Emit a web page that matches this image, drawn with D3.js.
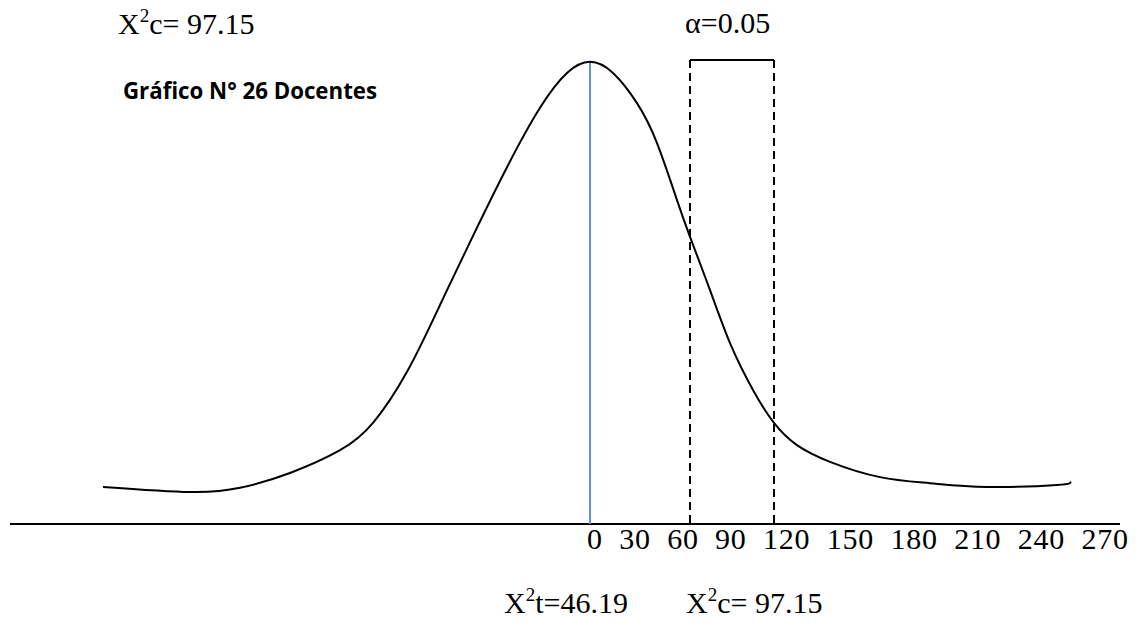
<!DOCTYPE html>
<html>
<head>
<meta charset="utf-8">
<script src="https://cdn.jsdelivr.net/npm/d3@7"></script>
<style>
  body { margin: 0; background: #fff; }
  svg { display: block; }
</style>
</head>
<body>
<div id="chart"></div>
<script>
// curve (x in axis units, y in % of peak height)
var curveX = [-243.5, -200, -175, -150, -125, -108.5, -91.5, -75, -58.5, -41.5, -25, -11.5, 0,
              11.5, 23.5, 33.5, 43.5, 50, 60, 70, 81.5, 92, 103.5, 120, 145, 170, 198.5, 233.5, 240];
var curveY = [8.0, 6.9, 7.8, 11.0, 15.9, 21.8, 32.8, 47.2, 62.1, 76.9, 89.7, 97.2, 99.6,
              97.2, 90.7, 82.1, 69.8, 61.9, 50.4, 39.0, 28.9, 21.8, 17.0, 13.4, 10.1, 8.8, 8.0, 8.4, 9.1];
var meanX = 0;
var critX = [50, 92];          // dashed bounds of the rejection region
var tickLabels = ["0", "30", "60", "90", "120", "150", "180", "210", "240", "270"];
var topLabel = ["X", "2", "c= 97.15"];
var alphaLabel = "α=0.05";
var title = "Gráfico N° 26 Docentes";
var bottomT = ["X", "2", "t=46.19"];
var bottomC = ["X", "2", "c= 97.15"];

var width = 1136, height = 628;
var serif = "'Liberation Serif', 'Times New Roman', serif";

var x = d3.scaleLinear().domain([-290, 265]).range([10, 1120]);
var y = d3.scaleLinear().domain([0, 100]).range([524, 60]);

var svg = d3.select("#chart").append("svg")
    .attr("width", width)
    .attr("height", height);

// baseline axis
svg.append("line")
    .attr("x1", x(-290)).attr("x2", x(265))
    .attr("y1", y(0)).attr("y2", y(0))
    .style("stroke", "#000")
    .style("stroke-width", 2);

// rejection region: two dashed uprights and a solid top
svg.selectAll(".crit")
    .data(critX)
    .enter().append("line")
    .attr("class", "crit")
    .attr("x1", function(d) { return x(d); })
    .attr("x2", function(d) { return x(d); })
    .attr("y1", y(100)).attr("y2", y(0))
    .style("stroke", "#000")
    .style("stroke-width", 2)
    .style("stroke-dasharray", "8,5");
svg.append("line")
    .attr("x1", x(critX[0])).attr("x2", x(critX[1]))
    .attr("y1", y(100)).attr("y2", y(100))
    .style("stroke", "#000")
    .style("stroke-width", 2);

// mean line
svg.append("line")
    .attr("x1", x(meanX)).attr("x2", x(meanX))
    .attr("y1", y(d3.max(curveY))).attr("y2", y(0))
    .style("stroke", "#5b8fd6")
    .style("stroke-width", 2);

// bell curve
var pts = curveX.map(function(v, i) { return [v, curveY[i]]; });
var line = d3.line()
    .x(function(d) { return x(d[0]); })
    .y(function(d) { return y(d[1]); })
    .curve(d3.curveNatural);
svg.append("path")
    .datum(pts)
    .attr("d", line)
    .style("fill", "none")
    .style("stroke", "#000")
    .style("stroke-width", 2);

// text with a superscript 2
function chiLabel(parts, px, py, anchor) {
    var t = svg.append("text")
        .attr("x", px).attr("y", py)
        .style("font-family", serif)
        .style("font-size", "30px")
        .style("text-anchor", anchor);
    t.append("tspan").text(parts[0]);
    t.append("tspan").attr("dy", -12).style("font-size", "19px").text(parts[1]);
    t.append("tspan").attr("dy", 12).text(parts[2]);
    return t;
}

chiLabel(topLabel, 118, 34, "start");
chiLabel(bottomT, 628, 613, "end");
chiLabel(bottomC, 686, 613, "start");

svg.append("text")
    .attr("x", 685).attr("y", 33)
    .style("font-family", serif)
    .style("font-size", "30px")
    .text(alphaLabel);

svg.append("text")
    .attr("x", 123).attr("y", 99)
    .attr("textLength", 254)
    .attr("lengthAdjust", "spacingAndGlyphs")
    .style("font-family", "'Open Sans', 'Noto Sans', sans-serif")
    .style("font-weight", "bold")
    .style("font-size", "23px")
    .text(title);

// tick labels run along as one line of text under the axis
svg.append("text")
    .attr("x", 587).attr("y", 549)
    .attr("textLength", 541)
    .attr("lengthAdjust", "spacing")
    .style("font-family", serif)
    .style("font-size", "30px")
    .style("white-space", "pre")
    .text(tickLabels.join("\u00a0\u00a0"));
</script>
</body>
</html>
